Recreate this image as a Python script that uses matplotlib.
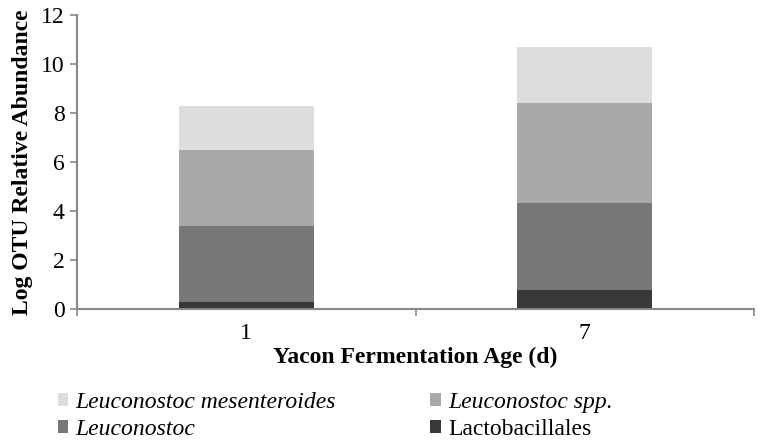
import matplotlib
matplotlib.use("Agg")
import matplotlib.pyplot as plt
import numpy as np

plt.rcParams['font.family'] = ['Liberation Serif', 'DejaVu Serif']

categories = ['1', '7']
lactobacillales = [0.30, 0.78]
leuconostoc = [3.10, 3.56]
leuconostoc_spp = [3.10, 4.06]
leuconostoc_mes = [1.80, 2.28]

series = [
    ('Lactobacillales', lactobacillales, '#383838', False),
    ('Leuconostoc', leuconostoc, '#777777', True),
    ('Leuconostoc spp.', leuconostoc_spp, '#a9a9a9', True),
    ('Leuconostoc mesenteroides', leuconostoc_mes, '#dddddd', True),
]

fig = plt.figure(figsize=(7.62, 4.43), dpi=100)
ax = fig.add_axes([77/762, (443-309)/443, (754-77)/762, (309-15)/443])

x = np.arange(len(categories))
bottom = np.zeros(len(categories))
handles = {}
for name, vals, col, ital in series:
    b = ax.bar(x, vals, width=0.4, bottom=bottom, color=col, label=name, linewidth=0)
    handles[name] = b
    bottom += np.array(vals)

ax.set_xlim(-0.5, 1.5)
ax.set_ylim(0, 12)
ax.set_yticks(range(0, 13, 2))
ax.set_xticks(x)
ax.set_xticklabels(categories)
ax.set_xticks([-0.5, 0.5, 1.5], minor=True)
ax.tick_params(axis='x', which='major', length=0, pad=10, labelsize=17)
ax.tick_params(axis='x', which='minor', length=5, color='#888888', width=1.2)
ax.tick_params(axis='y', length=5, color='#888888', width=1.2, labelsize=17, pad=4)
for s in ['top', 'right']:
    ax.spines[s].set_visible(False)
for s in ['left', 'bottom']:
    ax.spines[s].set_color('#888888')
    ax.spines[s].set_linewidth(1.5)

ax.set_ylabel('Log OTU Relative Abundance', fontsize=17, fontweight='bold', labelpad=6)
ax.set_xlabel('Yacon Fermentation Age (d)', fontsize=17, fontweight='bold', labelpad=2)

order = ['Leuconostoc mesenteroides', 'Leuconostoc', 'Leuconostoc spp.', 'Lactobacillales']
leg = fig.legend([handles[n] for n in order], order, ncol=2, loc='upper left',
                 bbox_to_anchor=(46/762, 1 - 380/443), frameon=False, fontsize=17,
                 handlelength=0.45, handleheight=0.45, handletextpad=0.3,
                 columnspacing=4.0, labelspacing=0.25, borderpad=0)
for t in leg.get_texts():
    if t.get_text() != 'Lactobacillales':
        t.set_fontstyle('italic')

fig.savefig('out.png', dpi=100)
